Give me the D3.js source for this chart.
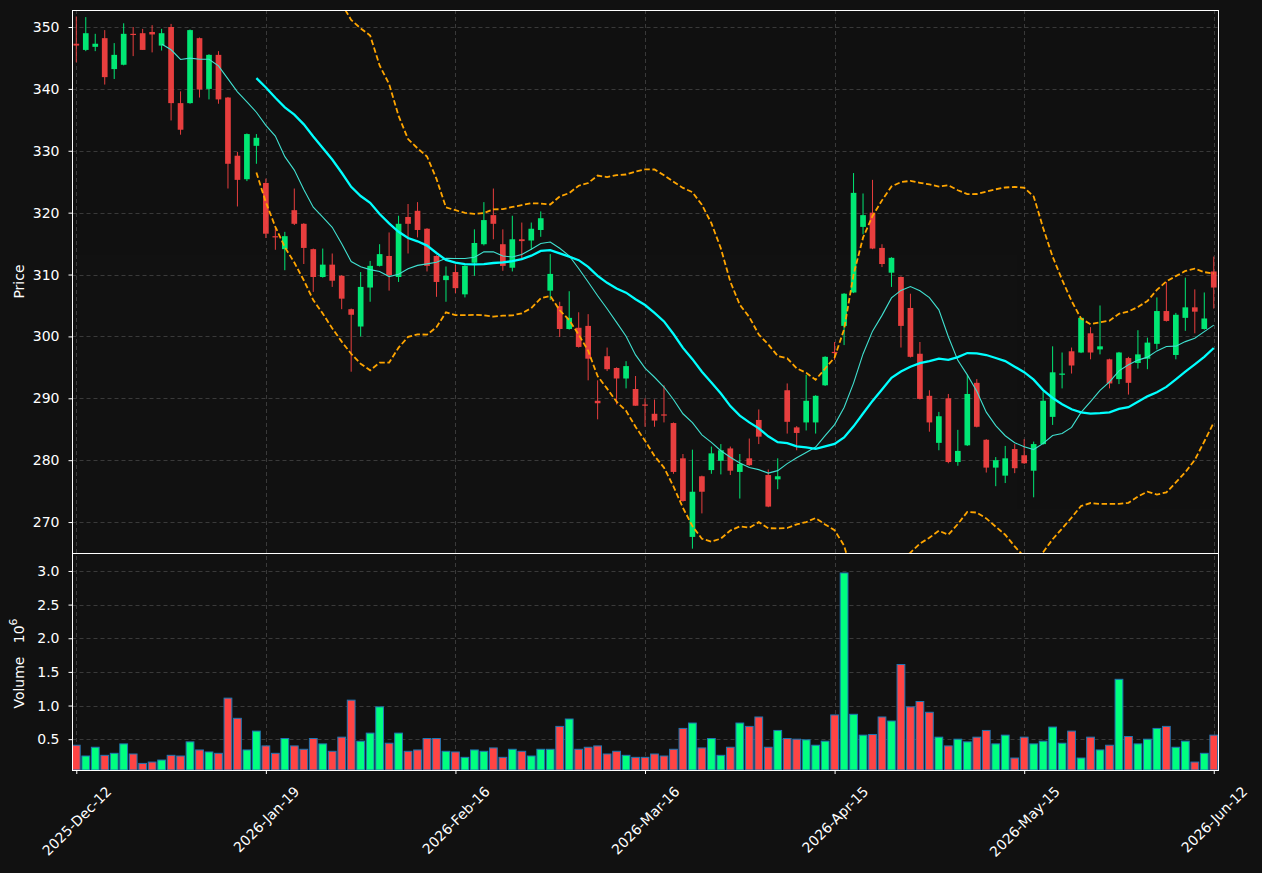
<!DOCTYPE html>
<html>
<head>
<meta charset="utf-8">
<script src="https://cdn.jsdelivr.net/npm/d3@7"></script>
<style>
html,body{margin:0;padding:0;background:#111111;}
svg{display:block;font-family:"DejaVu Sans",sans-serif;}
</style>
</head>
<body>
<svg id="chart" width="1262" height="873"></svg>
<script>
// ---------------- DATA ----------------
const opens = [347.3,346.3,346.8,348.2,343.2,343.9,348.9,349.0,349.2,347.0,
 350.0,337.7,337.7,348.2,340.0,345.5,338.6,329.2,325.4,330.8,
 324.8,316.2,314.1,320.4,318.2,314.1,309.6,311.6,309.8,304.4,
 301.6,307.9,311.4,313.0,309.6,319.3,320.3,317.4,313.0,309.1,
 310.4,306.8,311.9,314.9,319.6,314.9,311.1,315.7,315.5,317.2,
 307.4,304.9,301.2,301.4,301.7,289.6,296.8,294.9,293.2,291.5,
 289.0,287.5,287.4,286.0,280.3,267.6,277.4,278.4,279.9,281.9,
 278.1,280.3,286.5,277.6,276.9,291.3,285.3,286.1,286.1,292.1,
 297.5,301.7,307.1,317.7,320.0,314.3,310.3,309.6,304.6,297.2,
 290.4,282.8,290.0,279.7,282.4,292.5,283.3,278.8,277.5,281.8,
 280.8,278.3,282.6,287.0,293.8,297.6,297.4,300.5,297.9,296.3,
 293.1,296.5,295.7,296.4,298.8,304.1,297.0,303.0,304.7,301.2,
 310.5];
const highs = [351.7,351.6,348.9,349.5,347.4,350.6,350.0,349.7,350.3,349.7,
 350.5,339.6,349.6,348.3,345.6,346.1,338.7,329.8,332.8,332.7,
 325.5,317.5,316.9,323.9,318.3,314.2,314.2,313.4,309.9,304.5,
 310.4,312.2,314.9,316.8,319.5,321.4,321.7,317.5,313.1,311.3,
 311.6,311.5,317.3,321.7,323.9,317.3,319.5,318.4,318.4,320.2,
 313.3,305.6,307.3,303.9,303.6,292.9,298.2,295.0,296.0,293.6,
 290.0,289.8,292.1,286.1,281.0,281.7,277.5,282.2,282.6,282.2,
 281.0,283.5,288.2,278.5,280.3,292.4,285.5,293.8,290.5,296.8,
 299.1,307.0,326.4,323.1,325.3,314.9,312.8,309.7,306.9,299.1,
 291.3,287.8,290.7,284.9,293.8,293.1,283.4,280.5,282.3,282.6,
 283.4,283.0,291.1,298.4,297.4,298.2,303.1,301.5,305.0,296.4,
 297.5,296.7,301.0,299.8,306.3,308.8,303.8,309.5,307.6,307.1,
 312.9];
const lows = [344.3,346.1,346.1,340.7,341.6,343.8,345.3,346.3,345.9,346.2,
 334.9,332.6,337.6,338.6,338.3,337.6,323.9,321.0,325.1,327.9,
 315.9,314.0,310.7,318.0,311.7,307.2,309.5,308.0,304.4,294.3,
 300.0,305.6,311.3,307.4,308.8,313.4,316.0,310.5,306.4,305.6,
 307.0,306.3,309.8,314.7,315.7,310.6,310.5,312.5,314.0,316.1,
 305.9,299.9,301.1,298.2,292.9,286.6,294.4,289.0,291.6,288.8,
 285.4,285.4,286.1,277.8,273.3,265.7,271.4,277.8,277.7,277.6,
 273.8,279.1,282.6,272.4,275.3,284.3,281.6,284.8,284.3,292.0,
 296.2,298.6,307.0,316.5,314.1,311.2,308.0,298.2,296.6,289.8,
 284.6,281.6,279.5,279.1,282.3,285.3,278.0,275.8,276.3,277.9,
 279.4,274.0,282.5,285.7,291.6,294.0,297.3,296.3,297.1,291.6,
 292.3,290.6,294.8,294.7,297.9,302.4,296.3,300.9,300.5,301.1,
 304.5];
const closes = [347.0,349.0,347.3,341.9,345.5,348.9,348.8,346.3,348.8,349.0,
 337.7,333.4,349.5,339.9,345.5,338.3,327.9,325.3,332.7,332.1,
 316.6,316.0,316.2,318.2,314.3,309.6,311.6,309.0,306.1,303.5,
 308.0,311.4,313.3,309.9,318.2,318.2,317.2,311.4,308.8,309.8,
 307.8,311.4,315.1,318.8,318.2,311.4,315.7,315.4,317.4,319.1,
 310.1,301.2,303.0,298.3,296.4,289.2,294.7,293.2,295.2,288.8,
 288.8,286.4,287.2,278.1,273.4,274.9,274.9,281.1,281.6,278.3,
 279.4,279.2,283.8,272.5,277.4,286.2,284.4,289.6,290.4,296.7,
 297.3,306.9,323.2,319.6,314.2,311.7,312.7,301.7,296.7,289.9,
 286.1,287.1,279.7,281.5,290.7,285.4,278.8,280.0,280.3,278.7,
 279.5,282.6,289.6,294.2,294.0,295.3,303.0,297.4,298.4,292.4,
 297.4,292.5,297.1,299.0,304.1,302.5,303.5,304.7,304.0,302.9,
 307.9];
// volume in units of 10^6
const volumes = [0.41,0.25,0.38,0.26,0.29,0.43,0.28,0.14,0.16,0.19,
 0.26,0.25,0.46,0.34,0.31,0.29,1.11,0.81,0.34,0.62,
 0.40,0.29,0.51,0.40,0.35,0.51,0.43,0.32,0.53,1.08,
 0.47,0.59,0.98,0.44,0.59,0.32,0.34,0.51,0.51,0.32,
 0.31,0.23,0.34,0.32,0.37,0.23,0.35,0.32,0.25,0.35,
 0.35,0.69,0.80,0.35,0.38,0.40,0.28,0.32,0.26,0.23,
 0.23,0.28,0.25,0.35,0.66,0.74,0.37,0.51,0.26,0.38,
 0.74,0.69,0.83,0.38,0.63,0.51,0.50,0.49,0.41,0.47,
 0.86,2.97,0.87,0.56,0.57,0.83,0.77,1.61,0.98,1.06,
 0.90,0.53,0.40,0.50,0.46,0.53,0.63,0.43,0.56,0.22,
 0.53,0.43,0.47,0.68,0.44,0.62,0.22,0.53,0.34,0.41,
 1.39,0.54,0.43,0.50,0.66,0.69,0.38,0.47,0.16,0.29,
 0.56];
const tickIndices = [0,20,40,60,80,100,120];
const tickLabels = ["2025-Dec-12","2026-Jan-19","2026-Feb-16","2026-Mar-16","2026-Apr-15","2026-May-15","2026-Jun-12"];
const priceTicks = [270,280,290,300,310,320,330,340,350];
const volumeTicks = [0.5,1.0,1.5,2.0,2.5,3.0];
const maShort = 10, maLong = 20, bbK = 2;

// ---------------- LAYOUT / STYLE ----------------
const W = 1262, H = 873;
const left = 72.5, right = 1218.5, pTop = 10, pBot = 553, vTop = 553, vBot = 770;
const upColor = "#00ff80", downColor = "#ff4444";
const textColor = "#ffffff", gridColor = "#3a3a3a";

const n = closes.length;
const idx = d3.range(n);
const isUp = i => closes[i] >= opens[i];

const svg = d3.select("#chart");
svg.append("rect").attr("width", W).attr("height", H).attr("fill", "#111111");

const x = d3.scaleLinear().domain([-0.4, n - 0.5]).range([left, right]);
const step = x(1) - x(0);
const yP = d3.scaleLinear().domain([265.0, 352.75]).range([pBot, pTop]);
const yV = d3.scaleLinear().domain([0.3 * d3.min(volumes), 1.1 * d3.max(volumes)]).range([vBot, vTop]);

const defs = svg.append("defs");
defs.append("clipPath").attr("id", "clipP").append("rect")
  .attr("x", left).attr("y", pTop).attr("width", right - left).attr("height", pBot - pTop);
defs.append("clipPath").attr("id", "clipV").append("rect")
  .attr("x", left).attr("y", vTop).attr("width", right - left).attr("height", vBot - vTop);

// ---------------- GRID ----------------
const grid = svg.append("g").attr("stroke", gridColor).attr("stroke-width", 1).attr("stroke-dasharray", "4,3");
grid.selectAll("line.hp").data(priceTicks).join("line").attr("class", "hp")
  .attr("x1", left).attr("x2", right)
  .attr("y1", d => Math.round(yP(d)) + 0.5).attr("y2", d => Math.round(yP(d)) + 0.5);
grid.selectAll("line.hv").data(volumeTicks).join("line").attr("class", "hv")
  .attr("x1", left).attr("x2", right)
  .attr("y1", d => Math.round(yV(d)) + 0.5).attr("y2", d => Math.round(yV(d)) + 0.5);
grid.selectAll("line.vg").data(tickIndices).join("line").attr("class", "vg")
  .attr("x1", d => Math.round(x(d)) + 0.5).attr("x2", d => Math.round(x(d)) + 0.5)
  .attr("y1", pTop).attr("y2", vBot);

// ---------------- CANDLES ----------------
const gC = svg.append("g").attr("clip-path", "url(#clipP)").attr("opacity", 0.9);
gC.selectAll("line.wick").data(idx).join("line").attr("class", "wick")
  .attr("x1", i => x(i)).attr("x2", i => x(i))
  .attr("y1", i => yP(highs[i])).attr("y2", i => yP(lows[i]))
  .attr("stroke", i => isUp(i) ? upColor : downColor).attr("stroke-width", 1);
const bw = step * 0.6;
gC.selectAll("rect.body").data(idx).join("rect").attr("class", "body")
  .attr("x", i => x(i) - bw / 2).attr("width", bw)
  .attr("y", i => yP(Math.max(opens[i], closes[i])))
  .attr("height", i => Math.max(1.2, Math.abs(yP(opens[i]) - yP(closes[i]))))
  .attr("fill", i => isUp(i) ? upColor : downColor);

// ---------------- INDICATORS (computed from closes) ----------------
function sma(arr, p) {
  return arr.map((_, i) => i < p - 1 ? null : d3.mean(arr.slice(i - p + 1, i + 1)));
}
function rollStd(arr, p) {
  return arr.map((_, i) => {
    if (i < p - 1) return null;
    const s = arr.slice(i - p + 1, i + 1), m = d3.mean(s);
    return Math.sqrt(d3.mean(s, v => (v - m) * (v - m)));
  });
}
const ma10 = sma(closes, maShort);
const ma20 = sma(closes, maLong);
const sd20 = rollStd(closes, maLong);
const upper = ma20.map((m, i) => m == null ? null : m + bbK * sd20[i]);
const lower = ma20.map((m, i) => m == null ? null : m - bbK * sd20[i]);

const line = d3.line().defined(d => d != null).x((d, i) => x(i)).y(d => yP(d));
const gL = svg.append("g").attr("clip-path", "url(#clipP)").attr("fill", "none");
gL.append("path").attr("d", line(ma10)).attr("stroke", "#40e0d0").attr("stroke-width", 1.1);
gL.append("path").attr("d", line(ma20)).attr("stroke", "#00ffff").attr("stroke-width", 2.3);
gL.append("path").attr("d", line(upper)).attr("stroke", "#ffa500").attr("stroke-width", 1.8).attr("stroke-dasharray", "5.5,2.6");
gL.append("path").attr("d", line(lower)).attr("stroke", "#ffa500").attr("stroke-width", 1.8).attr("stroke-dasharray", "5.5,2.6");

// ---------------- VOLUME ----------------
const vw = step * 0.82;
svg.append("g").attr("clip-path", "url(#clipV)")
  .selectAll("rect").data(idx).join("rect")
  .attr("x", i => x(i) - vw / 2).attr("width", vw)
  .attr("y", i => yV(volumes[i])).attr("height", i => vBot - yV(volumes[i]))
  .attr("fill", i => isUp(i) ? upColor : downColor)
  .attr("stroke", "#1f77b4").attr("stroke-width", 1);

// ---------------- AXES ----------------
function styleAxis(g) {
  g.select(".domain").remove();
  g.selectAll(".tick line").attr("stroke", "#ffffff");
  g.selectAll(".tick text").attr("fill", textColor).attr("font-size", 14).attr("font-family", "DejaVu Sans");
}
svg.append("g").attr("transform", `translate(${left},0)`)
  .call(d3.axisLeft(yP).tickValues(priceTicks).tickSize(4).tickPadding(9).tickFormat(d3.format("d")))
  .call(styleAxis);
svg.append("g").attr("transform", `translate(${left},0)`)
  .call(d3.axisLeft(yV).tickValues(volumeTicks).tickSize(4).tickPadding(9).tickFormat(d3.format(".1f")))
  .call(styleAxis);
const xAxisG = svg.append("g").attr("transform", `translate(0,${vBot})`)
  .call(d3.axisBottom(x).tickValues(tickIndices).tickSize(4).tickFormat((d, i) => tickLabels[i]))
  .call(styleAxis);
xAxisG.selectAll(".tick text").each(function () {
  const t = d3.select(this);
  const L = this.getComputedTextLength();
  const cy = 15 + (L + 11) / 2.828;
  t.attr("y", 0).attr("dy", null).attr("text-anchor", "middle").attr("dominant-baseline", "central")
   .attr("transform", `translate(0,${cy}) rotate(-45)`);
});

// frames
const frame = svg.append("g").attr("fill", "none").attr("stroke", "#ffffff").attr("stroke-width", 1);
frame.append("rect").attr("x", left).attr("y", pTop + 0.5).attr("width", right - left).attr("height", pBot - pTop);
frame.append("rect").attr("x", left).attr("y", vTop + 0.5).attr("width", right - left).attr("height", vBot - vTop);

// axis titles
svg.append("text").attr("transform", `translate(19,${(pTop + pBot) / 2}) rotate(-90)`)
  .attr("text-anchor", "middle").attr("dominant-baseline", "central")
  .attr("fill", textColor).attr("font-size", 14).text("Price");
const vt = svg.append("text").attr("transform", `translate(19,${(vTop + vBot) / 2 + 2}) rotate(-90)`)
  .attr("text-anchor", "middle").attr("dominant-baseline", "central")
  .style("white-space", "pre")
  .attr("fill", textColor).attr("font-size", 14);
vt.append("tspan").text("Volume   10");
vt.append("tspan").attr("font-size", 11).attr("dy", -6).text("6");
</script>
</body>
</html>
